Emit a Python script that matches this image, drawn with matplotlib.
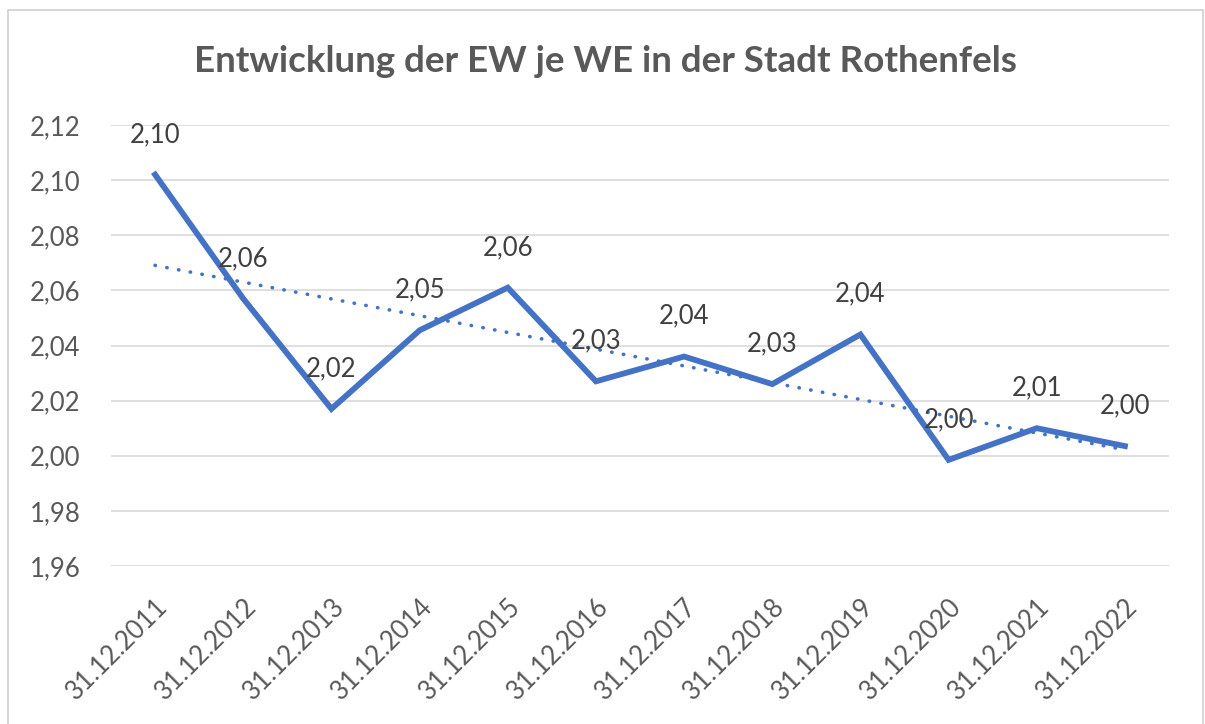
import numpy as np
import matplotlib
matplotlib.use("Agg")
import matplotlib.pyplot as plt
from matplotlib.patches import Rectangle

categories = ["31.12.2011", "31.12.2012", "31.12.2013", "31.12.2014", "31.12.2015",
              "31.12.2016", "31.12.2017", "31.12.2018", "31.12.2019", "31.12.2020",
              "31.12.2021", "31.12.2022"]
values = [2.102, 2.057, 2.017, 2.0455, 2.061, 2.027, 2.036, 2.026, 2.044, 1.9985, 2.010, 2.0035]
yticks = [1.96, 1.98, 2.00, 2.02, 2.04, 2.06, 2.08, 2.10, 2.12]
title = "Entwicklung der EW je WE in der Stadt Rothenfels"

plt.rcParams['font.family'] = ['Lato', 'DejaVu Sans']
blue = "#4472C4"
grey = "#595959"

W, H = 1205, 724
fig = plt.figure(figsize=(W / 100, H / 100), dpi=100)
ax = fig.add_axes([111 / W, 1 - 566 / H, (1169 - 111) / W, (566 - 125) / H])

# chart border
fig.patches.append(Rectangle((8 / W, -0.01), (1203 - 8) / W, (H - 10) / H + 0.01,
                             transform=fig.transFigure, fill=False,
                             edgecolor="#D0D0D0", linewidth=1.2))

x = np.arange(len(categories))
ax.plot(x, values, color=blue, linewidth=4.2, solid_joinstyle='miter', zorder=3)

coef = np.polyfit(x, values, 1)
trend = np.polyval(coef, x)
ax.plot(x, trend, color=blue, linewidth=2.6, linestyle=(0, (0.1, 3.2)),
        dash_capstyle='round', zorder=2)

for xi, v in zip(x, values):
    ax.annotate(f"{v:.2f}".replace(".", ","), (xi, v), xytext=(0, 29),
                textcoords="offset points", ha="center", va="center",
                fontsize=18.5, color="#404040", zorder=4)

ax.set_xlim(-0.5, len(categories) - 0.5)
ax.set_ylim(yticks[0], yticks[-1])
ax.set_yticks(yticks)
ax.set_yticklabels([f"{t:.2f}".replace(".", ",") for t in yticks], fontsize=18.5, color=grey)
ax.set_xticks(x)
ax.set_xticklabels(categories, rotation=45, ha="right", va="top",
                   rotation_mode="anchor", fontsize=18.5, color=grey)
ax.tick_params(axis="both", length=0)
ax.tick_params(axis="y", pad=22)
ax.tick_params(axis="x", pad=20)
ax.grid(axis="y", color="#D9D9D9", linewidth=1.2)
ax.set_axisbelow(True)
for s in ax.spines.values():
    s.set_visible(False)

fig.text(605 / W, 1 - 62 / H, title, ha="center", va="center",
         fontsize=26.5, fontweight="bold", color=grey)

fig.savefig("out.png", dpi=100, facecolor="white")
